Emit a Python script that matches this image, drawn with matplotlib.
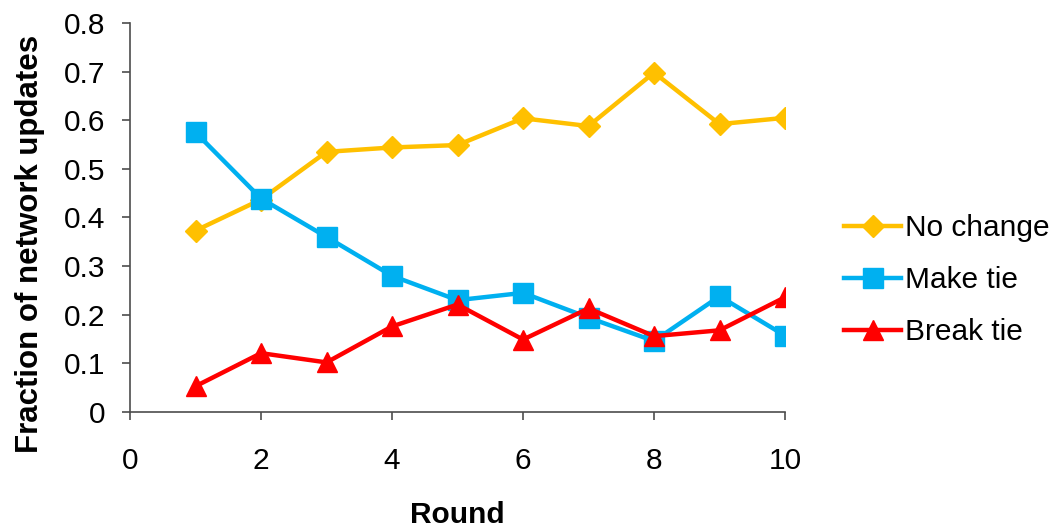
"""Fraction of network updates per round: no change / make tie / break tie."""

import matplotlib.pyplot as plt

plt.rcParams["font.family"] = ["Liberation Sans", "DejaVu Sans"]

ROUNDS = [1, 2, 3, 4, 5, 6, 7, 8, 9, 10]
NO_CHANGE = [0.373, 0.437, 0.535, 0.544, 0.549, 0.604, 0.588, 0.698, 0.592, 0.605]
MAKE_TIE = [0.575, 0.439, 0.360, 0.280, 0.230, 0.245, 0.194, 0.146, 0.238, 0.157]
BREAK_TIE = [0.053, 0.121, 0.102, 0.176, 0.221, 0.149, 0.213, 0.156, 0.168, 0.236]

X_TICKS = [0, 2, 4, 6, 8, 10]
Y_TICKS = [0, 0.1, 0.2, 0.3, 0.4, 0.5, 0.6, 0.7, 0.8]

FS = 21.5
AXIS_COLOR = "#4d4d4d"

fig = plt.figure(figsize=(10.59, 5.31), dpi=100)
ax = fig.add_axes([0.1228, 0.2241, 0.6185, 0.7326])

ax.plot(ROUNDS, NO_CHANGE, color="#FFC000", lw=3.2, marker="D", ms=11,
        label="No change")
ax.plot(ROUNDS, MAKE_TIE, color="#00B0F0", lw=3.2, marker="s", ms=14,
        label="Make tie")
ax.plot(ROUNDS, BREAK_TIE, color="#FF0000", lw=3.2, marker="^", ms=14,
        label="Break tie")

ax.set_xlim(0, 10)
ax.set_ylim(0, 0.8)
ax.set_xticks(X_TICKS)
ax.set_yticks(Y_TICKS)
ax.set_yticklabels(["0" if v == 0 else f"{v:.1f}" for v in Y_TICKS])
ax.tick_params(labelsize=FS, length=6, color=AXIS_COLOR, width=1.2)
ax.tick_params(axis="x", pad=19)
ax.tick_params(axis="y", pad=12)
for side in ("top", "right"):
    ax.spines[side].set_visible(False)
for side in ("left", "bottom"):
    ax.spines[side].set_color(AXIS_COLOR)
    ax.spines[side].set_linewidth(1.2)

ax.set_xlabel("Round", fontsize=FS, fontweight="bold")
ax.set_ylabel("Fraction of network updates", fontsize=22.5, fontweight="bold")
ax.xaxis.set_label_coords(0.5, -0.228)
ax.yaxis.set_label_coords(-0.13, 0.432)

ax.legend(loc="center left", bbox_to_anchor=(1.072, 0.339), frameon=False,
          fontsize=FS, handlelength=1.9, handletextpad=0.15,
          labelspacing=0.8, borderaxespad=0.0)

fig.savefig("out.png", dpi=100)
